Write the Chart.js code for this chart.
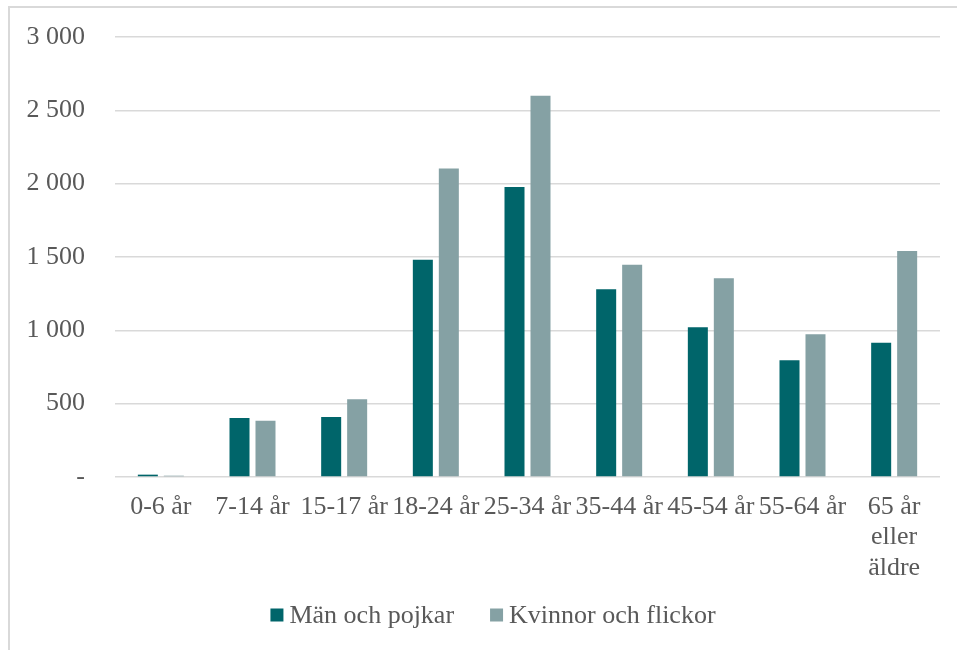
<!DOCTYPE html>
<html>
<head>
<meta charset="utf-8">
<script src="https://cdn.jsdelivr.net/npm/chart.js@4"></script>
<style>
  body { margin: 0; background: #fff; }
  #frame { position: absolute; left: 8px; top: 6px; width: 1000px; height: 1000px; border: 2px solid #d9d9d9; }
  #wrap { position: absolute; left: 0; top: 0; width: 957px; height: 650px; }
</style>
</head>
<body>
<div id="frame"></div>
<div id="wrap"><canvas id="ageChart" width="957" height="650"></canvas></div>
<script>
// age groups on the x axis
var ages = [
  "0-6 år",
  "7-14 år",
  "15-17 år",
  "18-24 år",
  "25-34 år",
  "35-44 år",
  "45-54 år",
  "55-64 år",
  ["65 år", "eller", "äldre"]
];
// values
var men = [16, 402, 409, 1482, 1977, 1280, 1021, 796, 916];
var women = [9, 384, 530, 2104, 2600, 1448, 1355, 973, 1541];

var yTicks = [0, 500, 1000, 1500, 2000, 2500, 3000];

var textColor = "#595959";
var gridColor = "#d9d9d9";
var fontFamily = "'Liberation Serif', 'Times New Roman', serif";
var font = { family: fontFamily, size: 26 };

function fmt(v) {
  if (v === 0) return "-";
  return String(v).replace(/\B(?=(\d{3})+(?!\d))/g, " ");
}

// legend drawn by hand so box/text spacing matches the original
var legendPlugin = {
  id: "bottomLegend",
  afterDraw: function (chart) {
    var ctx = chart.ctx;
    var sets = chart.data.datasets;
    var box = 13, gap = 6, itemGap = 36;
    ctx.save();
    ctx.font = "26px " + fontFamily;
    ctx.textBaseline = "middle";
    var total = 0;
    sets.forEach(function (ds, i) {
      total += box + gap + ctx.measureText(ds.label).width;
      if (i > 0) total += itemGap;
    });
    var x = 493 - total / 2;
    var y = 615;
    sets.forEach(function (ds) {
      ctx.fillStyle = ds.backgroundColor;
      ctx.fillRect(x, y - box / 2, box, box);
      x += box + gap;
      ctx.fillStyle = textColor;
      ctx.fillText(ds.label, x, y + 1);
      x += ctx.measureText(ds.label).width + itemGap;
    });
    ctx.restore();
  }
};

new Chart("ageChart", {
  type: "bar",
  data: {
    labels: ages,
    datasets: [{
      label: "Män och pojkar",
      backgroundColor: "#00656a",
      data: men
    }, {
      label: "Kvinnor och flickor",
      backgroundColor: "#85a1a4",
      data: women
    }]
  },
  plugins: [legendPlugin],
  options: {
    responsive: false,
    animation: false,
    categoryPercentage: 0.567,
    barPercentage: 0.77,
    layout: {
      padding: { left: 0, right: 17, top: 37, bottom: 65 }
    },
    plugins: {
      legend: { display: false },
      tooltip: { enabled: false }
    },
    scales: {
      x: {
        afterFit: function (scale) { scale.height = 108; },
        grid: { display: false },
        border: { display: false },
        ticks: {
          color: textColor,
          font: Object.assign({ lineHeight: 1.17 }, font),
          maxRotation: 0,
          autoSkip: false,
          padding: 7
        }
      },
      y: {
        min: 0,
        max: 3000,
        afterFit: function (scale) {
          scale.width = 115;
          scale.paddingTop = 0;
          scale.paddingBottom = 0;
        },
        afterBuildTicks: function (scale) {
          scale.ticks = yTicks.map(function (v) { return { value: v }; });
        },
        grid: { color: gridColor, lineWidth: 1.5, drawTicks: false },
        border: { display: false },
        ticks: {
          color: textColor,
          font: font,
          padding: 30,
          callback: function (v) { return fmt(v); }
        }
      }
    }
  }
});
</script>
</body>
</html>
